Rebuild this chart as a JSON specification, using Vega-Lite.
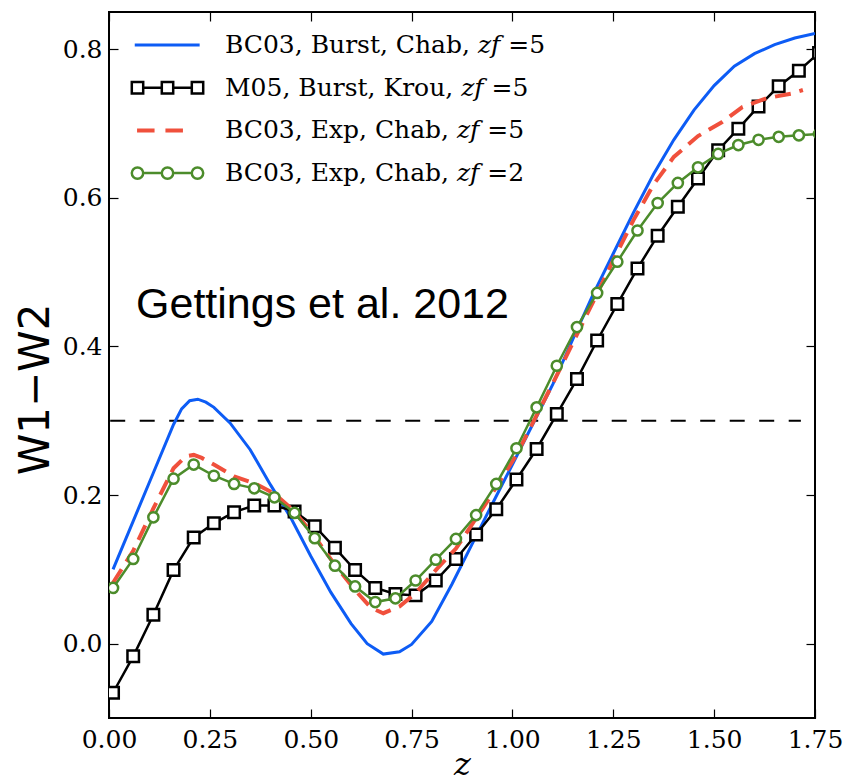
{
  "$schema": "https://vega.github.io/schema/vega-lite/v6.json",
  "width": 706,
  "height": 706,
  "autosize": {"type": "none"},
  "padding": {"left": 109, "top": 12, "right": 36, "bottom": 65},
  "background": "white",
  "config": {
    "view": {"stroke": "black", "strokeWidth": 2},
    "font": "DejaVu Serif"
  },
  "data": {
    "values": [
      {"k": "ref", "z": 0.003, "v": 0.3}, {"k": "ref", "z": 1.715, "v": 0.3},
      {"k": "a", "z": 0.01, "v": 0.100}, {"k": "a", "z": 0.06, "v": 0.165}, {"k": "a", "z": 0.11, "v": 0.230}, {"k": "a", "z": 0.16, "v": 0.295},
      {"k": "a", "z": 0.18, "v": 0.316}, {"k": "a", "z": 0.20, "v": 0.327}, {"k": "a", "z": 0.22, "v": 0.329}, {"k": "a", "z": 0.24, "v": 0.325},
      {"k": "a", "z": 0.26, "v": 0.318}, {"k": "a", "z": 0.30, "v": 0.297}, {"k": "a", "z": 0.35, "v": 0.261}, {"k": "a", "z": 0.40, "v": 0.214},
      {"k": "a", "z": 0.45, "v": 0.170}, {"k": "a", "z": 0.50, "v": 0.118}, {"k": "a", "z": 0.55, "v": 0.069}, {"k": "a", "z": 0.60, "v": 0.027},
      {"k": "a", "z": 0.64, "v": 0.000}, {"k": "a", "z": 0.68, "v": -0.014}, {"k": "a", "z": 0.72, "v": -0.011}, {"k": "a", "z": 0.75, "v": -0.001},
      {"k": "a", "z": 0.80, "v": 0.030}, {"k": "a", "z": 0.85, "v": 0.080}, {"k": "a", "z": 0.90, "v": 0.134}, {"k": "a", "z": 0.95, "v": 0.188},
      {"k": "a", "z": 1.00, "v": 0.241}, {"k": "a", "z": 1.05, "v": 0.295}, {"k": "a", "z": 1.10, "v": 0.349}, {"k": "a", "z": 1.15, "v": 0.410},
      {"k": "a", "z": 1.20, "v": 0.470}, {"k": "a", "z": 1.25, "v": 0.525}, {"k": "a", "z": 1.30, "v": 0.580}, {"k": "a", "z": 1.35, "v": 0.632},
      {"k": "a", "z": 1.40, "v": 0.678}, {"k": "a", "z": 1.45, "v": 0.718}, {"k": "a", "z": 1.50, "v": 0.751}, {"k": "a", "z": 1.55, "v": 0.777},
      {"k": "a", "z": 1.60, "v": 0.794}, {"k": "a", "z": 1.65, "v": 0.806}, {"k": "a", "z": 1.70, "v": 0.815}, {"k": "a", "z": 1.75, "v": 0.821},
      {"k": "b", "z": 0.01, "v": -0.066}, {"k": "b", "z": 0.06, "v": -0.017}, {"k": "b", "z": 0.11, "v": 0.039}, {"k": "b", "z": 0.16, "v": 0.099},
      {"k": "b", "z": 0.21, "v": 0.143}, {"k": "b", "z": 0.26, "v": 0.162}, {"k": "b", "z": 0.31, "v": 0.177}, {"k": "b", "z": 0.36, "v": 0.186},
      {"k": "b", "z": 0.41, "v": 0.186}, {"k": "b", "z": 0.46, "v": 0.178}, {"k": "b", "z": 0.51, "v": 0.158}, {"k": "b", "z": 0.56, "v": 0.129},
      {"k": "b", "z": 0.61, "v": 0.099}, {"k": "b", "z": 0.66, "v": 0.075}, {"k": "b", "z": 0.71, "v": 0.067}, {"k": "b", "z": 0.76, "v": 0.065},
      {"k": "b", "z": 0.81, "v": 0.085}, {"k": "b", "z": 0.86, "v": 0.114}, {"k": "b", "z": 0.91, "v": 0.147}, {"k": "b", "z": 0.96, "v": 0.181},
      {"k": "b", "z": 1.01, "v": 0.221}, {"k": "b", "z": 1.06, "v": 0.262}, {"k": "b", "z": 1.11, "v": 0.309}, {"k": "b", "z": 1.16, "v": 0.356},
      {"k": "b", "z": 1.21, "v": 0.408}, {"k": "b", "z": 1.26, "v": 0.457}, {"k": "b", "z": 1.31, "v": 0.505}, {"k": "b", "z": 1.36, "v": 0.549},
      {"k": "b", "z": 1.41, "v": 0.588}, {"k": "b", "z": 1.46, "v": 0.626}, {"k": "b", "z": 1.51, "v": 0.664}, {"k": "b", "z": 1.56, "v": 0.693},
      {"k": "b", "z": 1.61, "v": 0.723}, {"k": "b", "z": 1.66, "v": 0.750}, {"k": "b", "z": 1.71, "v": 0.771}, {"k": "b", "z": 1.76, "v": 0.795},
      {"k": "c", "z": 0.01, "v": 0.082}, {"k": "c", "z": 0.06, "v": 0.125}, {"k": "c", "z": 0.11, "v": 0.182}, {"k": "c", "z": 0.16, "v": 0.236},
      {"k": "c", "z": 0.19, "v": 0.252}, {"k": "c", "z": 0.21, "v": 0.254}, {"k": "c", "z": 0.23, "v": 0.250}, {"k": "c", "z": 0.26, "v": 0.241},
      {"k": "c", "z": 0.31, "v": 0.225}, {"k": "c", "z": 0.36, "v": 0.216}, {"k": "c", "z": 0.41, "v": 0.202}, {"k": "c", "z": 0.46, "v": 0.178},
      {"k": "c", "z": 0.51, "v": 0.144}, {"k": "c", "z": 0.56, "v": 0.106}, {"k": "c", "z": 0.61, "v": 0.072}, {"k": "c", "z": 0.65, "v": 0.048},
      {"k": "c", "z": 0.68, "v": 0.041}, {"k": "c", "z": 0.72, "v": 0.050}, {"k": "c", "z": 0.76, "v": 0.068}, {"k": "c", "z": 0.81, "v": 0.099},
      {"k": "c", "z": 0.86, "v": 0.128}, {"k": "c", "z": 0.93, "v": 0.185}, {"k": "c", "z": 1.01, "v": 0.254}, {"k": "c", "z": 1.10, "v": 0.350},
      {"k": "c", "z": 1.15, "v": 0.405}, {"k": "c", "z": 1.20, "v": 0.460}, {"k": "c", "z": 1.25, "v": 0.516}, {"k": "c", "z": 1.30, "v": 0.570},
      {"k": "c", "z": 1.35, "v": 0.618}, {"k": "c", "z": 1.40, "v": 0.655}, {"k": "c", "z": 1.46, "v": 0.683}, {"k": "c", "z": 1.52, "v": 0.702},
      {"k": "c", "z": 1.57, "v": 0.722}, {"k": "c", "z": 1.63, "v": 0.734}, {"k": "c", "z": 1.69, "v": 0.740}, {"k": "c", "z": 1.72, "v": 0.745},
      {"k": "d", "z": 0.01, "v": 0.075}, {"k": "d", "z": 0.06, "v": 0.114}, {"k": "d", "z": 0.11, "v": 0.170}, {"k": "d", "z": 0.16, "v": 0.222},
      {"k": "d", "z": 0.21, "v": 0.241}, {"k": "d", "z": 0.26, "v": 0.226}, {"k": "d", "z": 0.31, "v": 0.215}, {"k": "d", "z": 0.36, "v": 0.209},
      {"k": "d", "z": 0.41, "v": 0.197}, {"k": "d", "z": 0.46, "v": 0.176}, {"k": "d", "z": 0.51, "v": 0.142}, {"k": "d", "z": 0.56, "v": 0.105},
      {"k": "d", "z": 0.61, "v": 0.077}, {"k": "d", "z": 0.66, "v": 0.056}, {"k": "d", "z": 0.71, "v": 0.061}, {"k": "d", "z": 0.76, "v": 0.085},
      {"k": "d", "z": 0.81, "v": 0.113}, {"k": "d", "z": 0.86, "v": 0.141}, {"k": "d", "z": 0.91, "v": 0.173}, {"k": "d", "z": 0.96, "v": 0.215},
      {"k": "d", "z": 1.01, "v": 0.263}, {"k": "d", "z": 1.06, "v": 0.318}, {"k": "d", "z": 1.11, "v": 0.374}, {"k": "d", "z": 1.16, "v": 0.426},
      {"k": "d", "z": 1.21, "v": 0.472}, {"k": "d", "z": 1.26, "v": 0.514}, {"k": "d", "z": 1.31, "v": 0.556}, {"k": "d", "z": 1.36, "v": 0.593},
      {"k": "d", "z": 1.41, "v": 0.620}, {"k": "d", "z": 1.46, "v": 0.641}, {"k": "d", "z": 1.51, "v": 0.659}, {"k": "d", "z": 1.56, "v": 0.671},
      {"k": "d", "z": 1.61, "v": 0.678}, {"k": "d", "z": 1.66, "v": 0.682}, {"k": "d", "z": 1.71, "v": 0.684}, {"k": "d", "z": 1.76, "v": 0.686},
      {"k": "note", "z": 0.067, "v": 0.438, "label": "Gettings et al. 2012"}
    ]
  },
  "encoding": {
    "x": {"field": "z", "type": "quantitative", "scale": {"domain": [0, 1.75], "nice": false, "zero": false}, "axis": null},
    "y": {"field": "v", "type": "quantitative", "scale": {"domain": [-0.1, 0.85], "nice": false, "zero": false}, "axis": null}
  },
  "resolve": {"axis": {"x": "independent", "y": "independent"}},
  "layer": [
    {
      "transform": [{"filter": "datum.k === 'ref'"}],
      "mark": {"type": "line", "color": "black", "strokeWidth": 2, "strokeDash": [15, 14.5], "clip": true},
      "encoding": {
        "x": {"field": "z", "type": "quantitative", "scale": {"domain": [0, 1.75], "nice": false, "zero": false},
          "axis": {"orient": "bottom", "values": [0, 0.25, 0.5, 0.75, 1, 1.25, 1.5, 1.75], "format": ".2f", "tickSize": -9, "tickColor": "black", "tickWidth": 1.2,
            "domain": false, "grid": false, "labelFont": "DejaVu Serif", "labelFontSize": 25, "labelColor": "black", "labelPadding": 18,
            "labelFlush": false, "labelOverlap": false, "labelBound": false,
            "title": "z", "titleFont": "DejaVu Serif", "titleFontStyle": "italic", "titleFontWeight": "normal", "titleFontSize": 32, "titleColor": "black",
            "titleBaseline": "alphabetic", "titleY": 56}},
        "y": {"field": "v", "type": "quantitative", "scale": {"domain": [-0.1, 0.85], "nice": false, "zero": false},
          "axis": {"orient": "left", "values": [0, 0.2, 0.4, 0.6, 0.8], "format": ".1f", "tickSize": -9, "tickColor": "black", "tickWidth": 1.2,
            "domain": false, "grid": false, "labelFont": "DejaVu Serif", "labelFontSize": 25, "labelColor": "black", "labelPadding": 16,
            "labelFlush": false, "labelOverlap": false, "labelBound": false,
            "title": "W1−W2", "titleFont": "DejaVu Sans", "titleFontWeight": "normal", "titleFontSize": 42, "titleColor": "black",
            "titleBaseline": "middle", "titleX": -74, "titleY": 377, "titleAngle": -90}}
      }
    },
    {
      "transform": [{"filter": "datum.k === 'a'"}],
      "mark": {"type": "line", "strokeWidth": 3, "clip": true},
      "encoding": {
        "x": {"field": "z", "type": "quantitative", "scale": {"domain": [0, 1.75], "nice": false, "zero": false},
          "axis": {"orient": "top", "values": [0, 0.25, 0.5, 0.75, 1, 1.25, 1.5, 1.75], "tickSize": -9, "tickColor": "black", "tickWidth": 1.2,
            "domain": false, "grid": false, "labels": false, "title": null}},
        "y": {"field": "v", "type": "quantitative", "scale": {"domain": [-0.1, 0.85], "nice": false, "zero": false},
          "axis": {"orient": "right", "values": [0, 0.2, 0.4, 0.6, 0.8], "tickSize": -9, "tickColor": "black", "tickWidth": 1.2,
            "domain": false, "grid": false, "labels": false, "title": null}},
        "color": {
          "field": "k", "type": "nominal",
          "scale": {"domain": ["a", "b", "c", "d"], "range": ["#0d5cf5", "#000000", "#f0503c", "#4c8c2b"]},
          "legend": {
            "orient": "none", "legendX": 46, "legendY": 20.5, "title": null, "padding": 0,
            "symbolSize": 400, "symbolStrokeWidth": 2.5, "rowPadding": 16.7,
            "labelFont": "DejaVu Serif", "labelFontSize": 25, "labelColor": "black", "labelOffset": 45, "labelLimit": 0,
            "labelExpr": "datum.value === 'a' ? 'BC03, Burst, Chab, 𝑧𝑓 =5' : datum.value === 'b' ? 'M05, Burst, Krou, 𝑧𝑓 =5' : datum.value === 'c' ? 'BC03, Exp, Chab, 𝑧𝑓 =5' : 'BC03, Exp, Chab, 𝑧𝑓 =2'",
            "encode": {
              "symbols": {
                "update": {
                  "shape": {"signal": "datum.value === 'a' ? 'M-3.15,-0.03H3.09V0.03H-3.15Z' : datum.value === 'b' ? 'M-3.57,-0.57H-2.43V0.57H-3.57Z M-0.57,-0.57H0.57V0.57H-0.57Z M2.43,-0.57H3.57V0.57H2.43Z M-2.43,0H-0.57 M0.57,0H2.43' : datum.value === 'c' ? 'M-2.919,-0.075H-1.419V0.075H-2.919Z M-0.081,-0.075H1.419V0.075H-0.081Z' : 'M-2.43,0A0.57,0.57 0 1 1 -3.57,0A0.57,0.57 0 1 1 -2.43,0Z M0.57,0A0.57,0.57 0 1 1 -0.57,0A0.57,0.57 0 1 1 0.57,0Z M3.57,0A0.57,0.57 0 1 1 2.43,0A0.57,0.57 0 1 1 3.57,0Z M-2.43,0H-0.57 M0.57,0H2.43'"},
                  "stroke": {"signal": "datum.value === 'a' ? '#0d5cf5' : datum.value === 'b' ? '#000000' : datum.value === 'c' ? '#f0503c' : '#4c8c2b'"},
                  "fill": {"signal": "datum.value === 'a' ? '#0d5cf5' : datum.value === 'b' ? '#ffffff' : datum.value === 'c' ? '#f0503c' : '#ffffff'"},
                  "strokeWidth": {"value": 2.5},
                  "strokeDash": {"value": []},
                  "opacity": {"value": 1},
                  "fillOpacity": {"value": 1}
                }
              }
            }
          }
        }
      }
    },
    {
      "transform": [{"filter": "datum.k === 'b'"}],
      "mark": {"type": "line", "color": "black", "strokeWidth": 2.5, "clip": true}
    },
    {
      "transform": [{"filter": "datum.k === 'b'"}],
      "mark": {"type": "point", "shape": "square", "filled": true, "fill": "white", "stroke": "black", "strokeWidth": 2.5, "size": 132, "opacity": 1, "clip": true}
    },
    {
      "transform": [{"filter": "datum.k === 'c'"}],
      "mark": {"type": "line", "color": "#f0503c", "strokeWidth": 4, "strokeDash": [16, 9], "clip": true}
    },
    {
      "transform": [{"filter": "datum.k === 'd'"}],
      "mark": {"type": "line", "color": "#4c8c2b", "strokeWidth": 2.5, "clip": true}
    },
    {
      "transform": [{"filter": "datum.k === 'd'"}],
      "mark": {"type": "point", "shape": "circle", "filled": true, "fill": "white", "stroke": "#4c8c2b", "strokeWidth": 2.5, "size": 104, "opacity": 1, "clip": true}
    },
    {
      "transform": [{"filter": "datum.k === 'note'"}],
      "mark": {"type": "text", "font": "Liberation Sans", "fontSize": 43, "align": "left", "baseline": "alphabetic", "color": "black"},
      "encoding": {"text": {"field": "label"}}
    }
  ]
}
